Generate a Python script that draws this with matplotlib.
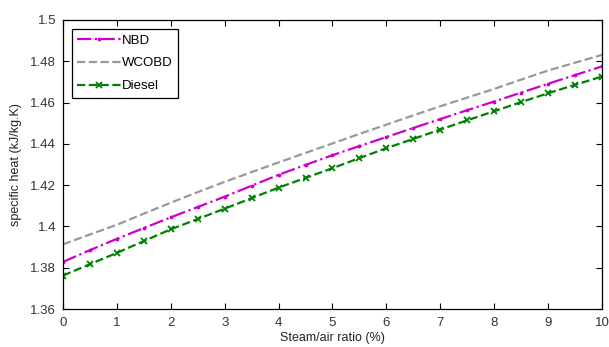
import numpy as np
import matplotlib
matplotlib.use('Agg')
import matplotlib.pyplot as plt
from matplotlib.ticker import FuncFormatter

plt.rcParams['font.family'] = ['Liberation Sans', 'DejaVu Sans']

# steam/air ratio (%)
ratio = [0, 0.5, 1, 1.5, 2, 2.5, 3, 3.5, 4, 4.5, 5,
         5.5, 6, 6.5, 7, 7.5, 8, 8.5, 9, 9.5, 10]

# specific heat (kJ/kg.K)
nbd = [1.3828, 1.3885, 1.3940, 1.3992, 1.4044, 1.4094, 1.4144, 1.4197, 1.4250, 1.4298, 1.4345,
       1.4389, 1.4433, 1.4477, 1.4520, 1.4563, 1.4605, 1.4648, 1.4691, 1.4733, 1.4775]
wcobd = [1.3913, 1.3961, 1.4008, 1.4062, 1.4115, 1.4166, 1.4216, 1.4263, 1.4310, 1.4356, 1.4402,
         1.4448, 1.4493, 1.4538, 1.4582, 1.4624, 1.4666, 1.4711, 1.4755, 1.4793, 1.4831]
diesel = [1.3762, 1.3817, 1.3872, 1.3929, 1.3986, 1.4036, 1.4086, 1.4137, 1.4188, 1.4235, 1.4282,
          1.4331, 1.4379, 1.4424, 1.4469, 1.4514, 1.4558, 1.4602, 1.4645, 1.4686, 1.4726]

fig = plt.figure(figsize=(6.09, 3.47), dpi=100)
ax = fig.add_axes([0.1034, 0.1095, 0.8851, 0.833])

ax.plot(ratio, nbd, color='#cc00cc', linestyle='-.', linewidth=1.6,
        marker='.', markersize=3.5, label='NBD')
ax.plot(ratio, wcobd, color='#999999', linestyle='--', linewidth=1.6,
        label='WCOBD')
ax.plot(ratio, diesel, color='#008000', linestyle='--', linewidth=1.6,
        marker='x', markersize=4, markeredgewidth=1.3, label='Diesel')

ax.set_xlim(0, 10)
ax.set_ylim(1.36, 1.5)
ax.set_xticks(range(0, 11))
ax.set_yticks(np.arange(1.36, 1.5001, 0.02))
ax.yaxis.set_major_formatter(FuncFormatter(lambda v, p: '%g' % round(v, 2)))
ax.tick_params(direction='in', length=4, width=0.8, top=True, right=True,
               labelsize=9.5, colors='black', labelcolor='#333333')
ax.tick_params(axis='x', pad=6)
ax.tick_params(axis='y', pad=5)
for s in ax.spines.values():
    s.set_linewidth(0.9)

ax.set_xlabel('Steam/air ratio (%)', fontsize=9, labelpad=2, color='#222222')
ax.set_ylabel('specific heat (kJ/kg.K)', fontsize=9, labelpad=6, color='#222222')

leg = ax.legend(loc='upper left', fontsize=9.5, handlelength=3.3, handletextpad=0.1,
                borderaxespad=0.7, fancybox=False, framealpha=1, edgecolor='black',
                borderpad=0.4, labelspacing=0.8)
leg.get_frame().set_linewidth(0.9)

fig.savefig('out.png', dpi=100)
